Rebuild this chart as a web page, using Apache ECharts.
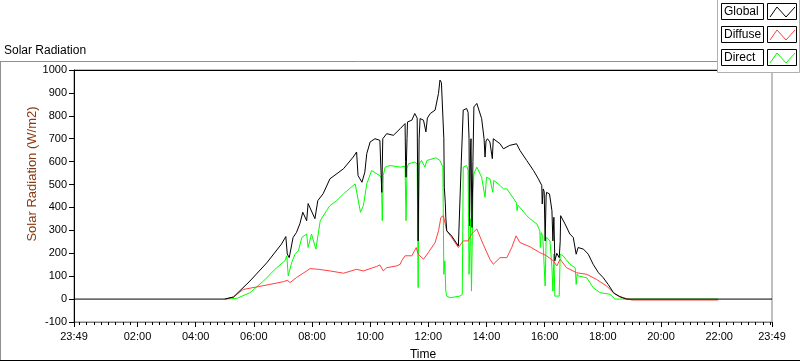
<!DOCTYPE html>
<html>
<head>
<meta charset="utf-8">
<script src="https://cdn.jsdelivr.net/npm/echarts@6/dist/echarts.min.js"></script>
<style>
html,body{margin:0;padding:0;background:#fff;}
#chart{width:800px;height:361px;}
</style>
</head>
<body>
<div id="chart"></div>
<script>
// Time in minutes since 00:00 (23:49 of previous day = -11)
const xTickLabels = ["23:49","02:00","04:00","06:00","08:00","10:00","12:00","14:00","16:00","18:00","20:00","22:00","23:49"];
const xTickValues = [-11,120,240,360,480,600,720,840,960,1080,1200,1320,1429];
const yTicks = [-100,0,100,200,300,400,500,600,700,800,900,1000];
const seriesNames = ["Global","Diffuse","Direct"];

const globalT = [-11,300,318,352,387,417,426,429,433,441,448,455,461,469,472,486,492,503,517,545,565,572,575,583,589,593,600,610,620,622,624,626,629,634,648,662,672,673,674,676,677,686,692,697,699,701,703,710,715,718,724,734,741,744,747,751,752,753,755,756,758,768,782,785,788,792,799,802,804,805,807,808,810,812,814,820,830,835,837,839,842,847,852,854,868,875,888,902,909,923,937,947,954,955,957,959,961,963,964,970,975,977,979,981,985,990,992,993,1002,1012,1019,1025,1029,1040,1050,1060,1071,1081,1091,1102,1115,1129,1429];
const globalV = [0,0,9,79,159,240,273,197,181,269,291,329,379,342,417,351,430,460,525,569,620,642,539,510,554,635,686,700,693,690,466,700,707,722,715,744,766,600,532,700,773,781,810,790,254,700,788,781,730,790,810,825,898,956,945,949,700,488,420,357,298,276,232,240,600,825,832,815,700,320,650,700,313,600,839,854,788,700,620,690,700,686,613,700,678,656,671,678,649,605,561,525,496,415,481,470,254,450,466,459,386,254,357,167,200,181,250,364,328,284,269,196,225,218,196,152,115,93,64,28,10,0,0];

const diffuseT = [300,318,338,366,393,421,429,435,448,469,476,493,517,545,572,586,613,620,624,627,634,655,662,665,672,686,695,699,710,720,734,741,746,751,758,768,782,792,802,809,820,833,847,854,868,882,892,901,909,930,950,964,978,985,992,1005,1026,1047,1067,1088,1105,1122,1140,1318];
const diffuseV = [0,9,42,53,64,76,82,72,94,123,133,130,123,113,130,123,142,149,149,123,137,145,152,167,189,189,225,196,174,203,247,298,357,364,298,269,225,254,254,284,306,240,174,152,181,181,225,276,247,228,203,189,167,145,174,137,115,108,86,57,21,6,-4,-4];

const directT = [300,325,352,380,407,424,428,431,438,445,452,459,469,472,479,488,497,510,517,531,545,569,573,580,586,593,603,620,623,625,627,631,641,662,672,674,676,679,692,697,699,701,706,713,717,736,744,750,752,754,756,758,765,785,790,791,792,799,802,804,807,809,812,814,820,830,837,840,847,853,855,868,875,882,902,903,905,923,930,944,950,951,953,956,959,961,963,964,971,975,977,979,981,990,992,998,1012,1023,1025,1027,1029,1047,1060,1074,1095,1105,1318];
const directV = [0,3,28,79,137,167,189,101,159,196,211,269,284,225,284,218,342,386,408,430,459,503,459,379,408,503,561,539,530,342,540,576,583,576,580,342,570,591,598,590,50,590,605,576,605,617,605,576,108,167,35,13,6,13,20,300,576,583,561,108,350,35,459,547,576,532,444,532,525,466,518,496,481,481,420,386,410,364,350,328,298,225,290,276,270,57,260,269,254,137,35,196,13,13,196,189,152,137,64,110,101,93,50,28,21,0,0];

function pairs(t, v){ return t.map((x,i)=>[x, v[i]]); }
function xLabel(v){
  const i = xTickValues.indexOf(Math.round(v));
  return i >= 0 ? xTickLabels[i] : '';
}
const minorTicks = [];
for (let m = 0; m < 1429; m += 15) { if (xTickValues.indexOf(m) < 0) minorTicks.push(m); }

const FONT = 'Liberation Sans';
const colors = ['#000000','#ff4040','#00ff00'];

const chart = echarts.init(document.getElementById('chart'), null, {renderer:'canvas'});

const legendGraphics = [];
legendGraphics.push({type:'rect', shape:{x:717.5,y:-1,width:82,height:73.5}, style:{fill:'#ffffff', stroke:'#b0b0b0', lineWidth:1}, z:100});
seriesNames.forEach((name,i)=>{
  const y0 = 3 + i*23;
  legendGraphics.push({type:'rect', shape:{x:721.5,y:y0+0.5,width:42,height:16}, style:{fill:'#ffffff', stroke:'#000', lineWidth:1}, z:101});
  legendGraphics.push({type:'text', x:724, y:y0+9, style:{text:name, font:'12px '+FONT, fill:'#000', verticalAlign:'middle'}, z:102});
  legendGraphics.push({type:'rect', shape:{x:767.5,y:y0+0.5,width:29,height:16}, style:{fill:'#ffffff', stroke:'#000', lineWidth:1}, z:101});
  legendGraphics.push({type:'polyline', shape:{points:[[770,y0+14],[777,y0+4],[786,y0+14],[795,y0+4]]}, style:{stroke:colors[i], lineWidth:1, fill:null}, z:102});
});

const option = {
  animation:false,
  backgroundColor:'#ffffff',
  title:{text:'Solar Radiation', left:4, top:45, padding:0, textStyle:{fontFamily:FONT, fontSize:12, fontWeight:'normal', color:'#000'}},
  grid:{left:74, right:28, top:70, bottom:39, show:true, borderColor:'#808080', borderWidth:1, outerBoundsMode:'none', containLabel:false},
  xAxis:[{
    type:'value', min:-11, max:1429, position:'bottom',
    name:'Time', nameLocation:'middle', nameGap:27, nameMoveOverlap:false,
    nameTextStyle:{fontFamily:FONT, fontSize:12, color:'#000'},
    axisLine:{show:true, onZero:false, lineStyle:{color:'#808080', width:1}},
    axisTick:{show:true, length:5, customValues:xTickValues, lineStyle:{color:'#000'}},
    axisLabel:{show:true, customValues:xTickValues, formatter:xLabel, fontFamily:FONT, fontSize:11, color:'#000', margin:9},
    splitLine:{show:false}
  },{
    type:'value', min:-11, max:1429, position:'bottom',
    axisLine:{show:false, onZero:false},
    axisTick:{show:true, length:3, customValues:minorTicks, lineStyle:{color:'#000'}},
    axisLabel:{show:false},
    splitLine:{show:false}
  },{
    type:'value', min:-11, max:1429, position:'top',
    axisLine:{show:true, onZero:false, lineStyle:{color:'#000', width:1}},
    axisTick:{show:false}, axisLabel:{show:false}, splitLine:{show:false}
  }],
  yAxis:{
    type:'value', min:-100, max:1000, interval:100,
    axisLine:{show:true, onZero:false, lineStyle:{color:'#000', width:1}},
    axisTick:{show:true, length:5, lineStyle:{color:'#000'}},
    axisLabel:{fontFamily:FONT, fontSize:11, color:'#000', margin:7, formatter:(v)=>String(v)},
    splitLine:{show:false}
  },
  series:[
    {name:seriesNames[0], type:'line', xAxisIndex:0, data:pairs(globalT, globalV), showSymbol:false, symbol:'none', lineStyle:{color:colors[0], width:1}, z:4},
    {name:seriesNames[1], type:'line', xAxisIndex:0, data:pairs(diffuseT, diffuseV), showSymbol:false, symbol:'none', lineStyle:{color:colors[1], width:1}, z:3},
    {name:seriesNames[2], type:'line', xAxisIndex:0, data:pairs(directT, directV), showSymbol:false, symbol:'none', lineStyle:{color:colors[2], width:1}, z:2}
  ],
  graphic:[
    {type:'line', shape:{x1:0,y1:61.5,x2:717,y2:61.5}, style:{stroke:'#909090', lineWidth:1}, z:50},
    {type:'line', shape:{x1:0.5,y1:61.5,x2:0.5,y2:361}, style:{stroke:'#909090', lineWidth:1}, z:50},
    {type:'line', shape:{x1:0,y1:360.5,x2:800,y2:360.5}, style:{stroke:'#000', lineWidth:1}, z:50},
    {type:'text', x:32, y:174, rotation:Math.PI/2, style:{text:'Solar Radiation (W/m2)', font:'13px '+FONT, fill:'#8a3a10', align:'center', verticalAlign:'middle'}, z:50}
  ].concat(legendGraphics)
};
chart.setOption(option);
</script>
</body>
</html>
